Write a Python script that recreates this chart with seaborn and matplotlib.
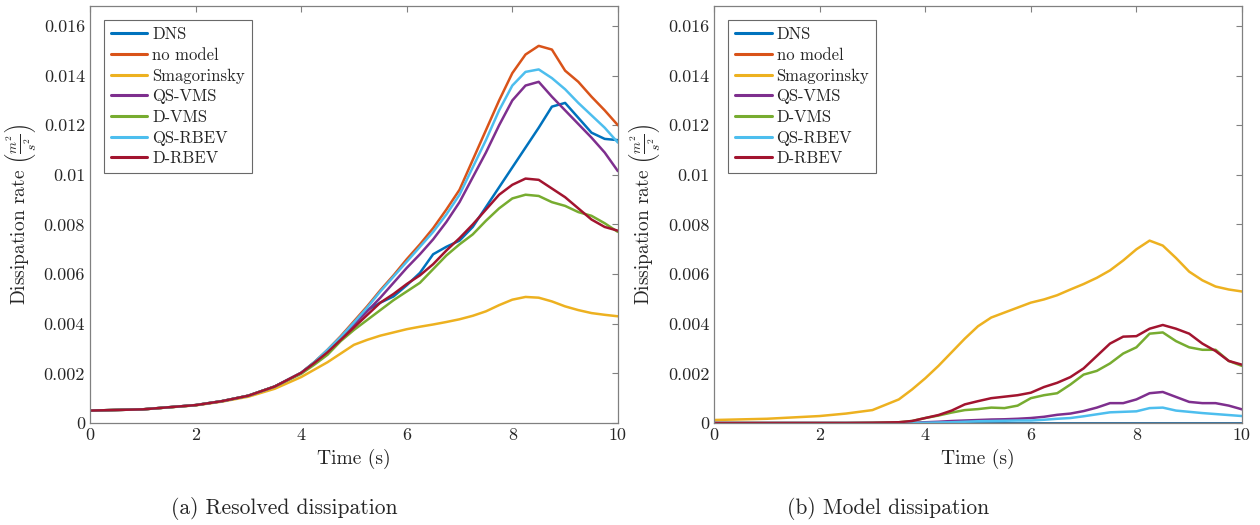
import numpy as np
import pandas as pd
import matplotlib
matplotlib.use('Agg')
import matplotlib.pyplot as plt
import seaborn as sns

# --- data (dissipation rates, in units of 1e-3 m^2/s^3) ---
models = ['DNS', 'no model', 'Smagorinsky', 'QS-VMS', 'D-VMS', 'QS-RBEV', 'D-RBEV']
colors = ['#0072BD', '#D95319', '#EDB120', '#7E2F8E', '#77AC30', '#4DBEEE', '#A2142F']

# (a) resolved dissipation
t_res = [0, 1, 2, 2.5, 3, 3.5,
         4, 4.25, 4.5, 4.75, 5, 5.25, 5.5, 5.75, 6, 6.25, 6.5, 6.75,
         7, 7.25, 7.5, 7.75, 8, 8.25, 8.5, 8.75, 9, 9.25, 9.5, 9.75, 10]
res_dns = [0.50, 0.55, 0.72, 0.88, 1.10, 1.47,
           2.02, 2.45, 2.90, 3.45, 4.00, 4.55, 4.85, 5.10, 5.55, 6.05, 6.80, 7.10,
           7.35, 7.90, 8.70, 9.50, 10.30, 11.10, 11.90, 12.75, 12.90, 12.30, 11.70, 11.45, 11.40]
res_nomodel = [0.50, 0.55, 0.72, 0.88, 1.10, 1.47,
               2.02, 2.45, 2.95, 3.50, 4.10, 4.70, 5.35, 5.95, 6.60, 7.20, 7.85, 8.60,
               9.40, 10.60, 11.80, 13.00, 14.10, 14.85, 15.20, 15.05, 14.20, 13.75, 13.15, 12.60, 12.00]
res_smag = [0.50, 0.55, 0.71, 0.86, 1.06, 1.38,
            1.85, 2.15, 2.45, 2.80, 3.15, 3.35, 3.52, 3.65, 3.78, 3.88, 3.97, 4.07,
            4.18, 4.32, 4.50, 4.75, 4.97, 5.08, 5.05, 4.90, 4.70, 4.55, 4.43, 4.36, 4.30]
res_qsvms = [0.50, 0.55, 0.72, 0.88, 1.10, 1.47,
             2.02, 2.42, 2.90, 3.40, 3.95, 4.50, 5.05, 5.65, 6.25, 6.80, 7.40, 8.10,
             8.90, 9.90, 10.90, 12.00, 13.00, 13.60, 13.75, 13.15, 12.60, 12.05, 11.50, 10.90, 10.15]
res_dvms = [0.50, 0.55, 0.72, 0.88, 1.10, 1.47,
            1.98, 2.35, 2.75, 3.30, 3.75, 4.15, 4.55, 4.95, 5.30, 5.65, 6.20, 6.75,
            7.20, 7.60, 8.15, 8.65, 9.05, 9.20, 9.15, 8.90, 8.75, 8.50, 8.35, 8.05, 7.70]
res_qsrbev = [0.50, 0.55, 0.72, 0.88, 1.10, 1.47,
              2.02, 2.45, 2.95, 3.47, 4.05, 4.65, 5.30, 5.90, 6.50, 7.10, 7.70, 8.40,
              9.20, 10.30, 11.40, 12.60, 13.60, 14.15, 14.25, 13.90, 13.45, 12.90, 12.40, 11.90, 11.30]
res_drbev = [0.50, 0.55, 0.72, 0.88, 1.10, 1.47,
             2.02, 2.42, 2.85, 3.35, 3.85, 4.35, 4.85, 5.20, 5.60, 5.95, 6.40, 6.95,
             7.45, 8.00, 8.60, 9.20, 9.60, 9.85, 9.80, 9.45, 9.10, 8.65, 8.20, 7.90, 7.75]

# (b) model dissipation
t_mod = [0, 1, 2, 2.5, 3, 3.5, 3.75,
         4, 4.25, 4.5, 4.75, 5, 5.25, 5.5, 5.75, 6, 6.25, 6.5, 6.75,
         7, 7.25, 7.5, 7.75, 8, 8.25, 8.5, 8.75, 9, 9.25, 9.5, 9.75, 10]
mod_dns = [0.0] * len(t_mod)
mod_nomodel = [0.0] * len(t_mod)
mod_smag = [0.12, 0.17, 0.28, 0.38, 0.52, 0.95, 1.35,
            1.80, 2.30, 2.85, 3.40, 3.90, 4.25, 4.45, 4.65, 4.85, 4.98, 5.15, 5.38,
            5.60, 5.85, 6.15, 6.55, 7.00, 7.35, 7.15, 6.65, 6.10, 5.75, 5.50, 5.38, 5.30]
mod_qsvms = [0, 0, 0, 0, 0, 0, 0.01,
             0.03, 0.05, 0.08, 0.10, 0.12, 0.14, 0.15, 0.17, 0.20, 0.25, 0.33, 0.38,
             0.48, 0.62, 0.80, 0.80, 0.95, 1.20, 1.25, 1.05, 0.85, 0.80, 0.80, 0.70, 0.55]
mod_dvms = [0, 0, 0, 0, 0.01, 0.03, 0.08,
            0.20, 0.30, 0.42, 0.52, 0.56, 0.62, 0.60, 0.70, 1.00, 1.12, 1.20, 1.55,
            1.95, 2.10, 2.40, 2.80, 3.05, 3.60, 3.65, 3.30, 3.05, 2.95, 2.95, 2.50, 2.30]
mod_qsrbev = [0, 0, 0, 0, 0, 0, 0,
              0.01, 0.02, 0.03, 0.05, 0.07, 0.08, 0.09, 0.10, 0.10, 0.13, 0.17, 0.20,
              0.27, 0.35, 0.43, 0.45, 0.47, 0.60, 0.62, 0.50, 0.45, 0.40, 0.36, 0.32, 0.28]
mod_drbev = [0, 0, 0, 0, 0.01, 0.03, 0.08,
             0.20, 0.32, 0.50, 0.75, 0.88, 1.00, 1.06, 1.12, 1.22, 1.45, 1.62, 1.85,
             2.20, 2.70, 3.20, 3.48, 3.50, 3.80, 3.95, 3.80, 3.60, 3.20, 2.90, 2.50, 2.35]

res_series = [res_dns, res_nomodel, res_smag, res_qsvms, res_dvms, res_qsrbev, res_drbev]
mod_series = [mod_dns, mod_nomodel, mod_smag, mod_qsvms, mod_dvms, mod_qsrbev, mod_drbev]


def to_long(t, series):
    frames = []
    for name, vals in zip(models, series):
        frames.append(pd.DataFrame({'time': t, 'rate': np.array(vals) * 1e-3, 'model': name}))
    return pd.concat(frames, ignore_index=True)


df_res = to_long(t_res, res_series)
df_mod = to_long(t_mod, mod_series)

# --- style ---
sns.set_style('white')
plt.rcParams['font.family'] = ['cmr10', 'DejaVu Serif']
plt.rcParams['mathtext.fontset'] = 'cm'
plt.rcParams['axes.unicode_minus'] = False
plt.rcParams['axes.formatter.use_mathtext'] = True

fig = plt.figure(figsize=(12.6, 5.25), dpi=100)
ax1 = fig.add_axes([0.0714, 0.1943, 0.419, 0.794])
ax2 = fig.add_axes([0.5667, 0.1943, 0.419, 0.794])

palette = dict(zip(models, colors))
yticks = [0, 0.002, 0.004, 0.006, 0.008, 0.01, 0.012, 0.014, 0.016]

for ax, df in [(ax1, df_res), (ax2, df_mod)]:
    sns.lineplot(data=df, x='time', y='rate', hue='model', hue_order=models,
                 palette=palette, lw=1.8, ax=ax, sort=False, estimator=None)
    ax.set_xlim(0, 10)
    ax.set_ylim(0, 0.0168)
    ax.set_xticks([0, 2, 4, 6, 8, 10])
    ax.set_xticklabels(['0', '2', '4', '6', '8', '10'])
    ax.set_yticks(yticks)
    ax.set_yticklabels(['%g' % v for v in yticks])
    ax.tick_params(direction='in', top=True, right=True, length=4,
                   color='#808080', labelcolor='#262626', labelsize=13)
    for sp in ax.spines.values():
        sp.set_color('#808080')
        sp.set_linewidth(0.9)
    ax.set_xlabel('Time (s)', fontsize=14, color='#262626')
    ax.set_ylabel(r'Dissipation rate $\left(\frac{m^2}{s^2}\right)$', fontsize=14, color='#262626')
    leg = ax.legend(loc='upper left', fontsize=12, frameon=True, fancybox=False,
                    handlelength=2.2, handletextpad=0.3, borderpad=0.4,
                    labelspacing=0.32, borderaxespad=0.85)
    leg.get_frame().set_edgecolor('#444444')
    leg.get_frame().set_linewidth(0.8)
    for line in leg.get_lines():
        line.set_linewidth(2.2)

# keep the zero DNS line visible over the zero "no model" line
ax2.lines[1].set_zorder(1.5)

fig.text(0.226, 0.032, '(a) Resolved dissipation', ha='center', va='center', fontsize=15.5)
fig.text(0.705, 0.032, '(b) Model dissipation', ha='center', va='center', fontsize=15.5)

fig.savefig('out.png', dpi=100)
